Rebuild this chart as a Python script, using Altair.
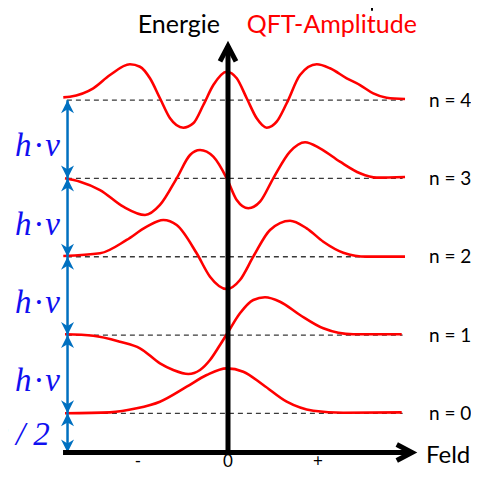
import altair as alt
import pandas as pd

# ---- data (Feld in units of the -/+ ticks, energy in units of h*nu) ----
levels = [0, 1, 2, 3, 4]
level_labels = ["n = 0", "n = 1", "n = 2", "n = 3", "n = 4"]

feld_n0 = [-1.811, -1.311, -1.014, -0.756, -0.459, -0.237, -0.014, 0.170, 0.392, 0.652, 0.948, 1.281, 1.930]
amp_n0 = [0.001, 0.013, 0.064, 0.149, 0.340, 0.490, 0.575, 0.532, 0.362, 0.149, 0.034, 0.008, 0.013]

feld_n1 = [-1.811, -1.497, -1.2, -0.978, -0.756, -0.608, -0.441, -0.311, -0.2, -0.089, 0.003, 0.133,
           0.281, 0.411, 0.578, 0.8, 1.059, 1.392, 1.652, 1.930]
amp_n1 = [0.010, -0.008, -0.085, -0.169, -0.361, -0.446, -0.497, -0.446, -0.319, -0.127, 0.043, 0.278,
          0.448, 0.482, 0.426, 0.256, 0.086, 0.010, 0.010, 0.010]

feld_n2 = [-1.830, -1.422, -1.126, -0.903, -0.719, -0.570, -0.348, -0.2, -0.014, 0.133, 0.281, 0.467,
           0.689, 0.874, 1.059, 1.281, 1.541, 1.967]
amp_n2 = [0.010, 0.044, 0.214, 0.384, 0.469, 0.405, 0.044, -0.255, -0.412, -0.297, 0.001, 0.342,
          0.460, 0.363, 0.192, 0.052, 0.001, 0.001]

feld_n3 = [-1.811, -1.644, -1.422, -1.163, -0.922, -0.756, -0.570, -0.422, -0.311, -0.163, -0.014, 0.097,
           0.226, 0.356, 0.503, 0.689, 0.856, 1.022, 1.244, 1.467, 1.652, 1.967]
amp_n3 = [0.002, -0.042, -0.148, -0.361, -0.467, -0.339, 0.002, 0.299, 0.363, 0.278, 0.002, -0.275,
          -0.381, -0.297, 0.002, 0.342, 0.462, 0.385, 0.214, 0.066, 0.010, 0.019]

feld_n4 = [-1.83, -1.756, -1.497, -1.311, -1.089, -0.978, -0.867, -0.756, -0.644, -0.497, -0.386, -0.274,
           -0.163, -0.014, 0.097, 0.208, 0.319, 0.430, 0.541, 0.652, 0.8, 0.986, 1.133, 1.319, 1.467,
           1.614, 1.763, 1.967]
amp_n4 = [0.036, 0.044, 0.151, 0.321, 0.458, 0.427, 0.279, 0.024, -0.232, -0.352, -0.296, -0.062,
          0.193, 0.363, 0.279, 0.024, -0.232, -0.352, -0.275, -0.040, 0.321, 0.458, 0.407, 0.279, 0.193,
          0.087, 0.031, 0.015]

tick_pos = [-1, 0, 1]
tick_labels = ["-", "0", "+"]

title_left = "Energie"
title_right = "QFT-Amplitude"
x_title = "Feld"
quantum_label = "h\u200a·\u200aν"
half_label = "h\u200a·\u200aν / 2"

# ---- tables ----
rows = []
for n, fx, fa in [(0, feld_n0, amp_n0), (1, feld_n1, amp_n1), (2, feld_n2, amp_n2),
                  (3, feld_n3, amp_n3), (4, feld_n4, amp_n4)]:
    for i, (x, a) in enumerate(zip(fx, fa)):
        rows.append({"n": n, "i": i, "x": x, "E": n + 0.5 + a})
curves = pd.DataFrame(rows)

XS = alt.Scale(domain=[-2.4444, 2.7], nice=False, zero=False)
YS = alt.Scale(domain=[-0.2363, 5.6769], nice=False, zero=False)

ex = alt.X("x:Q", scale=XS, axis=None)
ey = alt.Y("E:Q", scale=YS, axis=None)

RED = "#FF0000"
BLUE_ARROW = "#0070C0"
BLUE_TEXT = "#1010F0"
blue_x = -1.783

lev = pd.DataFrame({"n": levels, "E": [n + 0.5 for n in levels], "label": level_labels,
                    "x": [-1.79] * 5, "x2": [1.94] * 5, "xl": [2.233] * 5})
mids = pd.DataFrame({"E": [n + 1.0 for n in levels[:-1]], "label": [quantum_label] * 4, "x": [-1.867] * 4})

dashed = alt.Chart(lev).mark_rule(strokeDash=[5, 4], color="#3a3a3a", strokeWidth=1.3).encode(
    x=ex, x2="x2:Q", y=ey)

lines = alt.Chart(curves).mark_line(color=RED, strokeWidth=2.6, interpolate="monotone").encode(
    x=ex, y=ey, detail="n:N", order="i:Q")

blue_line = alt.Chart(pd.DataFrame({"x": [blue_x], "E": [0.0], "E2": [4.5]})).mark_rule(
    color=BLUE_ARROW, strokeWidth=2.5).encode(x=ex, y=ey, y2="E2:Q")

up_tips = pd.DataFrame({"x": [blue_x] * 5, "E": [0.5, 1.5, 2.5, 3.5, 4.5]})
down_tips = pd.DataFrame({"x": [blue_x] * 5, "E": [0.0, 0.5, 1.5, 2.5, 3.5]})
up_heads = alt.Chart(up_tips).mark_point(
    shape="M0,0 L1,2 L0,1.4 L-1,2 Z", filled=True, size=169, opacity=1, color=BLUE_ARROW, strokeWidth=0
).encode(x=ex, y=ey)
down_heads = alt.Chart(down_tips).mark_point(
    shape="M0,0 L1,-2 L0,-1.4 L-1,-2 Z", filled=True, size=169, opacity=1, color=BLUE_ARROW, strokeWidth=0
).encode(x=ex, y=ey)

v_axis = alt.Chart(pd.DataFrame({"x": [0.0], "E": [0.0], "E2": [5.19]})).mark_rule(
    color="black", strokeWidth=5).encode(x=ex, y=ey, y2="E2:Q")
h_axis = alt.Chart(pd.DataFrame({"x": [-1.833], "x2": [2.044], "E": [0.0]})).mark_rule(
    color="black", strokeWidth=5).encode(x=ex, x2="x2:Q", y=ey)

chev_up = alt.Chart(pd.DataFrame({"x": [0.0], "E": [5.19]})).mark_point(
    shape="M-1,1.9 L0,0 L1,1.9", filled=False, size=256, opacity=1, color="black", strokeWidth=5
).encode(x=ex, y=ey)
chev_right = alt.Chart(pd.DataFrame({"x": [2.044], "E": [0.0]})).mark_point(
    shape="M-1.9,-1 L0,0 L-1.9,1", filled=False, size=256, opacity=1, color="black", strokeWidth=5
).encode(x=ex, y=ey)

mark_top = alt.Chart(pd.DataFrame({"x": [1.6], "E": [5.642], "E2": [5.677]})).mark_rule(
    color="black", strokeWidth=2).encode(x=ex, y=ey, y2="E2:Q")

FONT = "Lato"
texts = pd.DataFrame({
    "x": [-0.089, 0.208, 2.2],
    "E": [5.354, 5.354, -0.130],
    "t": [title_left, title_right, x_title],
})
t_left = alt.Chart(texts.iloc[[0]]).mark_text(
    font=FONT, fontSize=25, align="right", baseline="alphabetic", color="black").encode(x=ex, y=ey, text="t:N")
t_right = alt.Chart(texts.iloc[[1]]).mark_text(
    font=FONT, fontSize=25, align="left", baseline="alphabetic", color=RED).encode(x=ex, y=ey, text="t:N")
t_feld = alt.Chart(texts.iloc[[2]]).mark_text(
    font=FONT, fontSize=24, align="left", baseline="alphabetic", color="black").encode(x=ex, y=ey, text="t:N")

t_ticks = alt.Chart(pd.DataFrame({"x": tick_pos, "E": [-0.19] * 3, "t": tick_labels})).mark_text(
    font=FONT, fontSize=17, align="center", baseline="alphabetic", color="black"
).encode(x=ex, y=ey, text="t:N")

t_levels = alt.Chart(lev).mark_text(
    font=FONT, fontSize=19, align="left", baseline="alphabetic", dy=6.5, color="black"
).encode(x=alt.X("xl:Q", scale=XS, axis=None), y=ey, text="label:N")

t_quanta = alt.Chart(mids).mark_text(
    font="Liberation Serif", fontStyle="italic", fontSize=33, align="right", baseline="alphabetic",
    dy=17, color=BLUE_TEXT).encode(x=ex, y=ey, text="label:N")
t_half = alt.Chart(pd.DataFrame({"x": [-1.98], "E": [0.25], "label": [half_label]})).mark_text(
    font="Liberation Serif", fontStyle="italic", fontSize=33, align="right", baseline="alphabetic",
    dy=12, color=BLUE_TEXT).encode(x=ex, y=ey, text="label:N")

chart = alt.layer(
    dashed, lines, blue_line, up_heads, down_heads, v_axis, h_axis, chev_up, chev_right, mark_top,
    t_left, t_right, t_feld, t_ticks, t_levels, t_quanta, t_half
).properties(
    width=463, height=463, autosize=alt.AutoSizeParams(type="none"), padding=0
).configure_view(stroke=None)

chart.save("out.html", embed_options={"renderer": "svg", "actions": False})
